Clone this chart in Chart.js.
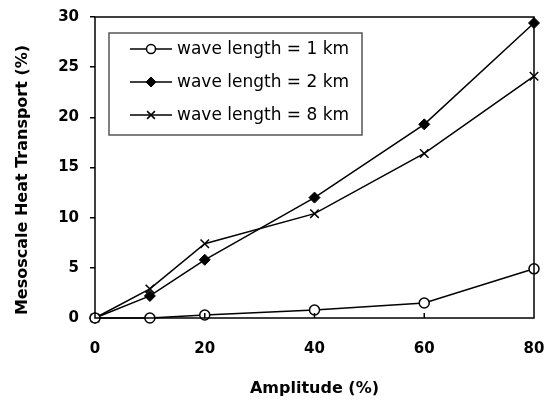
<!DOCTYPE html>
<html>
<head>
<meta charset="utf-8">
<script src="https://cdn.jsdelivr.net/npm/chart.js@4"></script>
<style>
  html, body { margin: 0; padding: 0; background: #fff; }
  #wrap { width: 553px; height: 400px; }
</style>
</head>
<body>
<div id="wrap"><canvas id="chart1" width="553" height="400"></canvas></div>
<script>
  const amplitude = [0, 10, 20, 40, 60, 80];

  const wave1km = [0, 0, 0.3, 0.8, 1.5, 4.9];
  const wave2km = [0, 2.2, 5.8, 12.0, 19.3, 29.4];
  const wave8km = [0, 2.9, 7.4, 10.4, 16.4, 24.1];

  const labels = ["wave length = 1 km", "wave length = 2 km", "wave length = 8 km"];

  const xTitle = "Amplitude (%)";
  const yTitle = "Mesoscale Heat Transport (%)";

  const FONT = "'DejaVu Sans', sans-serif";

  function toPoints(ys) {
    return ys.map((y, i) => ({ x: amplitude[i], y: y }));
  }

  // frame, inner x ticks, axis titles and the boxed legend
  const extras = {
    id: "extras",
    afterDatasetsDraw(chart) {
      const ctx = chart.ctx;
      const a = chart.chartArea;
      const xs = chart.scales.x;
      ctx.save();
      ctx.strokeStyle = "#000";
      ctx.lineWidth = 1.5;
      ctx.strokeRect(a.left, a.top, a.right - a.left, a.bottom - a.top);

      // small ticks pointing up into the plot
      [20, 40, 60].forEach((v) => {
        const px = xs.getPixelForValue(v);
        ctx.beginPath();
        ctx.moveTo(px, a.bottom);
        ctx.lineTo(px, a.bottom - 5);
        ctx.stroke();
      });

      // axis titles
      ctx.fillStyle = "#000";
      ctx.font = "bold 16px " + FONT;
      ctx.textAlign = "center";
      ctx.textBaseline = "middle";
      ctx.fillText(xTitle, (a.left + a.right) / 2, 389);
      ctx.translate(23, 180);
      ctx.rotate(-Math.PI / 2);
      ctx.fillText(yTitle, 0, 0);
      ctx.restore();

      // legend
      ctx.save();
      ctx.strokeStyle = "#555";
      ctx.lineWidth = 1.5;
      ctx.fillStyle = "#fff";
      ctx.fillRect(109, 33, 253, 102);
      ctx.strokeRect(109, 33, 253, 102);
      chart.data.datasets.forEach((ds, i) => {
        const y = 49 + i * 33;
        ctx.strokeStyle = "#000";
        ctx.lineWidth = 1.5;
        ctx.beginPath();
        ctx.moveTo(130, y);
        ctx.lineTo(172, y);
        ctx.stroke();
        ctx.fillStyle = ds.pointBackgroundColor;
        ctx.lineWidth = ds.pointBorderWidth;
        Chart.helpers.drawPoint(ctx, {
          pointStyle: ds.pointStyle,
          radius: ds.pointRadius - 0.5,
          borderWidth: ds.pointBorderWidth
        }, 151, y);
        ctx.fillStyle = "#000";
        ctx.font = "17px " + FONT;
        ctx.textAlign = "left";
        ctx.textBaseline = "middle";
        ctx.fillText(ds.label, 177, y + 1);
      });
      ctx.restore();
    }
  };

  const ctx = document.getElementById("chart1").getContext("2d");

  const myChart = new Chart(ctx, {
    type: "line",
    data: {
      datasets: [
        {
          label: labels[0],
          data: toPoints(wave1km),
          borderColor: "#000",
          borderWidth: 1.5,
          pointStyle: "circle",
          pointRadius: 5,
          pointBorderWidth: 1.5,
          pointBackgroundColor: "#fff",
          pointBorderColor: "#000",
          clip: false
        },
        {
          label: labels[1],
          data: toPoints(wave2km),
          borderColor: "#000",
          borderWidth: 1.5,
          pointStyle: "rectRot",
          pointRadius: 5.5,
          pointBorderWidth: 1,
          pointBackgroundColor: "#000",
          pointBorderColor: "#000",
          clip: false
        },
        {
          label: labels[2],
          data: toPoints(wave8km),
          borderColor: "#000",
          borderWidth: 1.5,
          pointStyle: "crossRot",
          pointRadius: 6,
          pointBorderWidth: 1.5,
          pointBackgroundColor: "#000",
          pointBorderColor: "#000",
          clip: false
        }
      ]
    },
    options: {
      responsive: false,
      animation: false,
      layout: { padding: { left: 0, right: 19, top: 17, bottom: 0 } },
      plugins: {
        legend: { display: false },
        tooltip: { enabled: false }
      },
      scales: {
        x: {
          type: "linear",
          min: 0,
          max: 80,
          border: { display: false },
          grid: { display: false },
          ticks: {
            stepSize: 20,
            padding: 14,
            color: "#000",
            font: { family: FONT, size: 15, weight: "bold" }
          },
          afterFit(scale) {
            scale.height = 82;
            scale.paddingLeft = 0;
            scale.paddingRight = 0;
          }
        },
        y: {
          min: 0,
          max: 30,
          border: { display: false },
          grid: {
            drawOnChartArea: false,
            drawTicks: true,
            tickLength: 5,
            color: "#000",
            lineWidth: 1.5
          },
          ticks: {
            stepSize: 5,
            padding: 11,
            color: "#000",
            font: { family: FONT, size: 15, weight: "bold" }
          },
          afterFit(scale) {
            scale.width = 95;
            scale.paddingTop = 0;
            scale.paddingBottom = 0;
          }
        }
      }
    },
    plugins: [extras]
  });
</script>
</body>
</html>
